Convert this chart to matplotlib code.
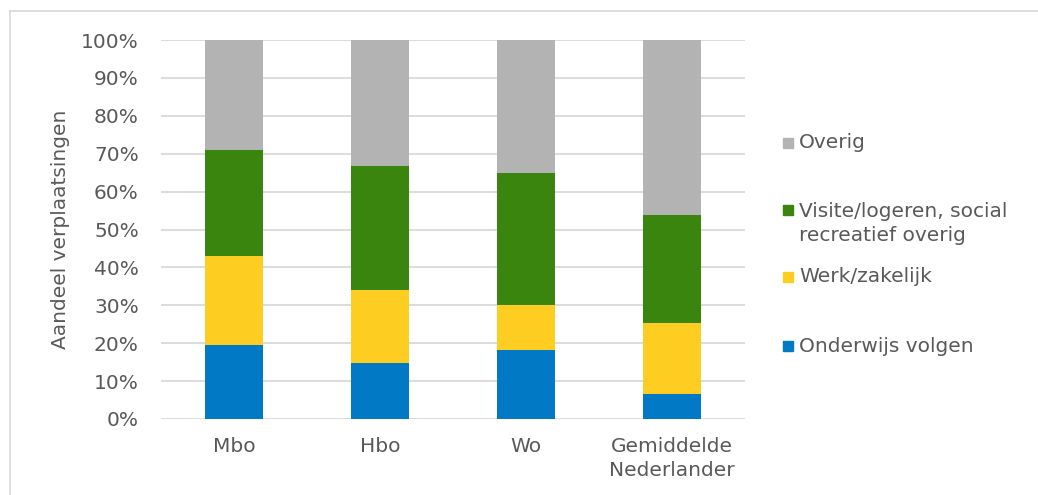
import matplotlib.pyplot as plt
from matplotlib.lines import Line2D
from matplotlib.patches import Rectangle
import numpy as np

# share of trips per motive (percent), per education level
categories = ["Mbo", "Hbo", "Wo", "Gemiddelde\nNederlander"]
onderwijs = [19.4, 14.8, 18.3, 6.6]
werk = [23.7, 19.2, 11.7, 18.8]
visite = [27.8, 32.7, 34.9, 28.4]
overig = [29.1, 33.3, 35.1, 46.2]

series_labels = ["Onderwijs volgen", "Werk/zakelijk",
                 "Visite/logeren, social\nrecreatief overig", "Overig"]
series_colors = ["#0179c5", "#fecd22", "#3a850d", "#b3b3b3"]

text_color = "#595959"
fs = 14.5
plt.rcParams["font.family"] = ["DejaVu Sans"]

fig = plt.figure(figsize=(10.38, 4.95), dpi=100)
W, H = 1038, 495
ax = fig.add_axes([161 / W, 1 - 419 / H, 584 / W, 379 / H])

x = np.arange(len(categories))
bottom = np.zeros(len(categories))
for vals, color in zip([onderwijs, werk, visite, overig], series_colors):
    ax.bar(x, vals, width=0.40, bottom=bottom, color=color, zorder=3)
    bottom += np.array(vals)

ax.set_xlim(-0.5, len(categories) - 0.5)
ax.set_ylim(0, 100)
ax.set_yticks(np.arange(0, 101, 10))
ax.set_yticklabels([f"{v}%" for v in range(0, 101, 10)])
ax.set_xticks(x)
ax.set_xticklabels(categories, linespacing=1.3)
ax.yaxis.grid(True, color="#d9d9d9", linewidth=1.3, zorder=0)
for s in ax.spines.values():
    s.set_visible(False)
ax.tick_params(length=0, labelsize=fs, labelcolor=text_color)
ax.tick_params(axis="y", pad=16)
ax.tick_params(axis="x", pad=13)
ax.set_ylabel("Aandeel verplaatsingen", fontsize=fs, color=text_color, labelpad=8)

# legend drawn by hand, top entry first: (y of marker, y of text centre)
legend_pos = [(143, 143), (210, 223.5), (277, 277), (346, 346)]
for lbl, color, (ym, yt) in zip(series_labels[::-1], series_colors[::-1], legend_pos):
    fig.add_artist(Rectangle((783 / W, 1 - (ym + 5) / H), 10 / W, 10 / H,
                             transform=fig.transFigure, color=color))
    fig.text(799 / W, 1 - yt / H, lbl, fontsize=fs, color=text_color,
             va="center", ha="left", linespacing=1.3)

# thin chart-area frame (top and left edges)
fig.add_artist(Line2D([10 / W, 1], [1 - 11 / H, 1 - 11 / H], color="#d9d9d9", lw=1.2))
fig.add_artist(Line2D([10 / W, 10 / W], [0, 1 - 11 / H], color="#d9d9d9", lw=1.2))

fig.savefig("out.png", dpi=100, facecolor="white")
